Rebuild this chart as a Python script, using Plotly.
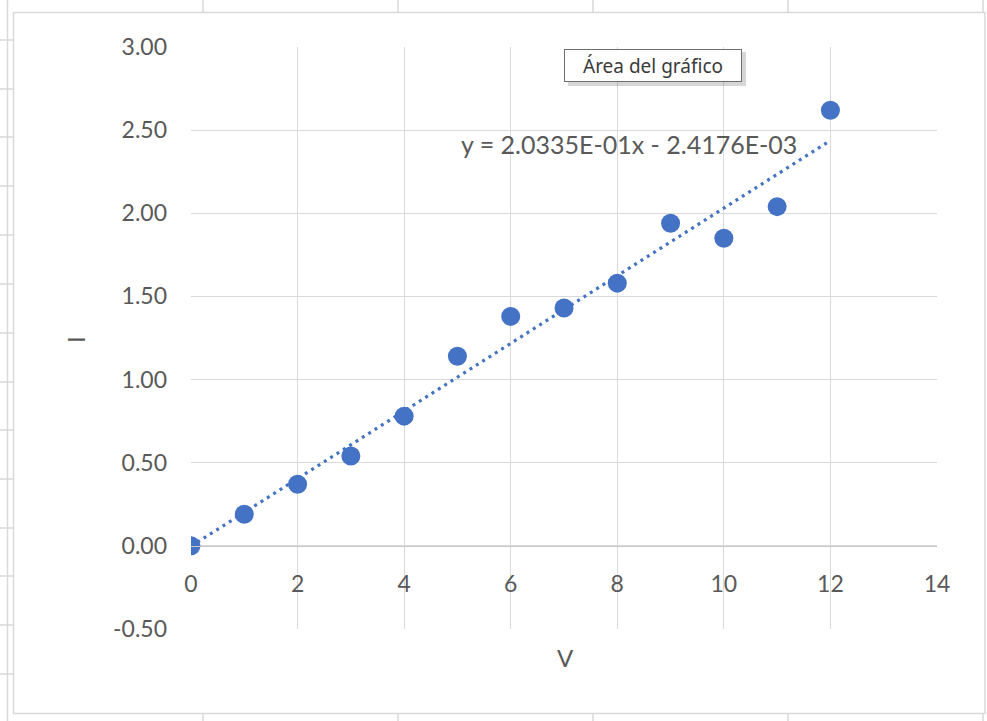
import plotly.graph_objects as go

# Measured current I for each applied voltage V
voltage = [0, 1, 2, 3, 4, 5, 6, 7, 8, 9, 10, 11, 12]
current = [0.00, 0.19, 0.37, 0.54, 0.78, 1.14, 1.38, 1.43, 1.58, 1.94, 1.85, 2.04, 2.62]

# Linear trendline coefficients (as shown in the equation label)
slope = 2.0335E-01
intercept = -2.4176E-03
equation_text = "y = 2.0335E-01x - 2.4176E-03"

# Axis ticks
x_ticks = [0, 2, 4, 6, 8, 10, 12, 14]
y_ticks = [-0.5, 0.0, 0.5, 1.0, 1.5, 2.0, 2.5, 3.0]
y_tick_labels = ["-0.50", "0.00", "0.50", "1.00", "1.50", "2.00", "2.50", "3.00"]

W, H = 987, 721
BLUE = "#4472C4"
TEXT = "#595959"
GRID = "#D9D9D9"
FONT = "Lato, 'Open Sans', sans-serif"


def px(x):
    return x / W


def py(y):
    return 1 - y / H


# Plot area in pixels
left, right, top, bottom = 191, 937, 47, 629
x_dom = [px(left), px(right)]
y_dom = [py(bottom), py(top)]
y_rng = [-0.5, 3.0]
x_axis_pos = y_dom[0] + (0 - y_rng[0]) / (y_rng[1] - y_rng[0]) * (y_dom[1] - y_dom[0])

trend_x = [voltage[0], voltage[-1]]
trend_y = [slope * v + intercept for v in trend_x]

fig = go.Figure()
fig.add_trace(go.Scatter(
    x=voltage, y=current, mode="markers",
    marker=dict(size=19, color=BLUE, line=dict(width=0)),
    hoverinfo="skip", showlegend=False,
))
fig.add_trace(go.Scatter(
    x=trend_x, y=trend_y, mode="lines",
    line=dict(color=BLUE, width=3.2, dash="3px,4.5px"),
    hoverinfo="skip", showlegend=False,
))

shapes = []
sheet = dict(color=GRID, width=1.5)
# Worksheet grid around the chart object
shapes.append(dict(type="line", xref="paper", yref="paper",
                   x0=px(7.5), x1=px(7.5), y0=0, y1=1, line=sheet))
for cx in [203, 398, 593, 788, 983]:
    shapes.append(dict(type="line", xref="paper", yref="paper",
                       x0=px(cx), x1=px(cx), y0=py(0), y1=py(12), line=sheet))
    shapes.append(dict(type="line", xref="paper", yref="paper",
                       x0=px(cx), x1=px(cx), y0=py(714), y1=py(721), line=sheet))
for ry in [40, 89, 137, 186, 235, 284, 333, 382, 430, 479, 528, 576, 625, 674]:
    shapes.append(dict(type="line", xref="paper", yref="paper",
                       x0=0, x1=px(13), y0=py(ry), y1=py(ry), line=sheet))
# Chart area border
shapes.append(dict(type="rect", xref="paper", yref="paper",
                   x0=px(13.5), x1=px(985), y0=py(713.5), y1=py(12.5),
                   line=dict(color=GRID, width=1.5), fillcolor="rgba(0,0,0,0)"))
# Tooltip drop shadow
shapes.append(dict(type="rect", xref="paper", yref="paper", layer="above",
                   x0=px(568), x1=px(746), y0=py(86), y1=py(52),
                   line=dict(width=0), fillcolor="rgba(0,0,0,0.16)"))


def label(text, x, y, size, **kw):
    return dict(text=text, xref="paper", yref="paper", x=px(x), y=py(y),
                xanchor="center", yanchor="middle", showarrow=False,
                font=dict(family=FONT, size=size, color=TEXT), **kw)


annotations = [
    label(equation_text, 629, 144, 25),
    label("V", 565, 657, 24),
    label("I", 75, 340, 24, textangle=-90),
    dict(text="Área del gráfico", xref="paper", yref="paper",
         x=px(653), y=py(66), xanchor="center", yanchor="middle",
         showarrow=False, width=174, height=29, bgcolor="white",
         bordercolor="#6E6E6E", borderwidth=1, borderpad=1,
         font=dict(family="'Noto Sans', sans-serif", size=19, color="#3A3A3A")),
]

fig.update_layout(
    width=W, height=H, autosize=False,
    margin=dict(l=0, r=0, t=0, b=0, pad=0, autoexpand=False),
    paper_bgcolor="white", plot_bgcolor="white",
    shapes=shapes, annotations=annotations,
    xaxis=dict(
        domain=x_dom, range=[0, 14], tickvals=x_ticks,
        anchor="free", position=x_axis_pos, automargin=False,
        showgrid=True, gridcolor=GRID, gridwidth=1,
        zeroline=False, showline=True, linecolor="#C8C8C8", linewidth=1.2,
        ticks="", ticklabelstandoff=17,
        tickfont=dict(family=FONT, size=23, color=TEXT),
    ),
    yaxis=dict(
        domain=y_dom, range=y_rng, tickvals=y_ticks, ticktext=y_tick_labels,
        automargin=False,
        showgrid=True, gridcolor=GRID, gridwidth=1,
        zeroline=False, showline=False, ticks="", ticklabelstandoff=23,
        tickfont=dict(family=FONT, size=23, color=TEXT),
    ),
)

# Let the figure sit flush in the window
fig.write_html(
    "out.html",
    post_script="document.body.style.margin='0';document.body.style.overflow='hidden';",
)
